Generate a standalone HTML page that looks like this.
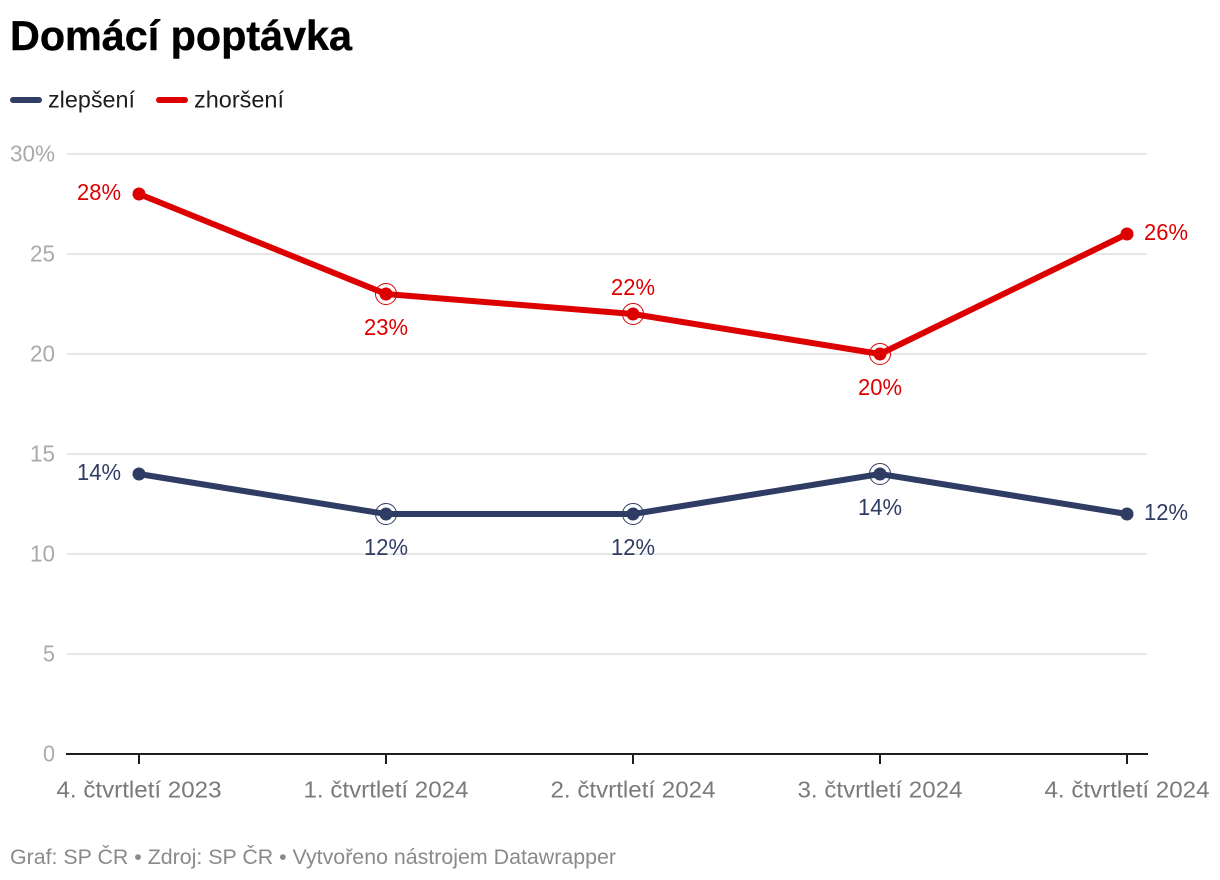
<!DOCTYPE html>
<html lang="cs">
<head>
<meta charset="utf-8">
<title>Domácí poptávka</title>
<style>
html,body{margin:0;padding:0;background:#fff;width:1220px;height:880px;overflow:hidden}
svg{display:block;font-family:"Liberation Sans",Arial,sans-serif}
</style>
</head>
<body>
<svg id="chart" width="1220" height="880" viewBox="0 0 1220 880" xmlns="http://www.w3.org/2000/svg">
  <rect width="1220" height="880" fill="#fff"/>
  <text x="10" y="50" font-size="42" font-weight="700" fill="#000" stroke="#000" stroke-width="0.4" textLength="342" lengthAdjust="spacingAndGlyphs">Domácí poptávka</text>
  <g>
    <line x1="13" y1="100" x2="39" y2="100" stroke="#2f3c63" stroke-width="6" stroke-linecap="round"/>
    <text x="48" y="107.5" font-size="23.5" fill="#1d1d1d" textLength="87" lengthAdjust="spacingAndGlyphs">zlepšení</text>
    <line x1="159" y1="100" x2="185" y2="100" stroke="#dd0000" stroke-width="6" stroke-linecap="round"/>
    <text x="194" y="107.5" font-size="23.5" fill="#1d1d1d" textLength="90" lengthAdjust="spacingAndGlyphs">zhoršení</text>
  </g>
  <g id="plot"></g>
  <text x="10" y="864" font-size="21" fill="#8a8a8a" textLength="606" lengthAdjust="spacingAndGlyphs">Graf: SP ČR • Zdroj: SP ČR • Vytvořeno nástrojem Datawrapper</text>
</svg>
<script>
const categories = ['4. čtvrtletí 2023', '1. čtvrtletí 2024', '2. čtvrtletí 2024', '3. čtvrtletí 2024', '4. čtvrtletí 2024'];
const improvementValues = [14, 12, 12, 14, 12];
const worseningValues = [28, 23, 22, 20, 26];
const yTicks = [0, 5, 10, 15, 20, 25, 30];
const yTickLabels = ['0', '5', '10', '15', '20', '25', '30%'];
const improvementLabelSides = ['left', 'below', 'below', 'below', 'right'];
const worseningLabelSides = ['left', 'below', 'above', 'below', 'right'];

const NS = 'http://www.w3.org/2000/svg';
const plot = document.getElementById('plot');
const X0 = 139, XSTEP = 247, Y0 = 754, YUNIT = 20;
function xScale(i) { return X0 + i * XSTEP; }
function yScale(v) { return Y0 - v * YUNIT; }
function make(tag, attrs, text) {
  const el = document.createElementNS(NS, tag);
  for (const k in attrs) el.setAttribute(k, attrs[k]);
  if (text !== undefined) el.textContent = text;
  plot.appendChild(el);
  return el;
}

yTicks.forEach(function (t, i) {
  if (t !== 0) {
    const grid = make('line', { x1: 67, x2: 1147, y1: yScale(t), y2: yScale(t), stroke: '#e6e6e6', 'stroke-width': 2 });
    
    
  }
  const s = yTickLabels[i];
  const w = s.length === 3 ? 45 : (s.length === 2 ? 25 : 12);
  const label = make('text', { x: 55, y: yScale(t) + 7.5, 'text-anchor': 'end', 'font-size': 23.5, fill: '#aaaaaa', textLength: w, lengthAdjust: 'spacingAndGlyphs' }, s);
  
  
});

const axis = make('line', { x1: 66, x2: 1148, y1: Y0, y2: Y0, stroke: '#1d1d1d', 'stroke-width': 2 });



categories.forEach(function (c, i) {
  const tick = make('line', { x1: xScale(i), x2: xScale(i), y1: Y0, y2: Y0 + 10, stroke: '#1d1d1d', 'stroke-width': 2 });
  
  
  const label = make('text', { x: xScale(i), y: 797.5, 'text-anchor': 'middle', 'font-size': 23.5, fill: '#7a7a7a', textLength: 165, lengthAdjust: 'spacingAndGlyphs' }, c);
  
  
});

function drawSeries(values, sides, color, key) {
  const pts = values.map(function (v, i) { return xScale(i) + ',' + yScale(v); }).join(' ');
  const line = make('polyline', { points: pts, fill: 'none', stroke: color, 'stroke-width': 6, 'stroke-linejoin': 'round' });
  
  
  values.forEach(function (v, i) {
    const cx = xScale(i), cy = yScale(v), side = sides[i];
    if (side === 'above' || side === 'below') {
      const ring = make('circle', { cx: cx, cy: cy, r: 10.5, fill: 'none', stroke: color, 'stroke-width': 1 });
      
      
    }
    const dot = make('circle', { cx: cx, cy: cy, r: 6.5, fill: color });
    
    
    let tx = cx, ty = cy + 6, anchor = 'middle';
    if (side === 'left') { tx = cx - 18; anchor = 'end'; }
    if (side === 'right') { tx = cx + 17; anchor = 'start'; }
    if (side === 'above') { ty = cy - 19; }
    if (side === 'below') { ty = cy + 41; }
    const label = make('text', { x: tx, y: ty, 'text-anchor': anchor, 'font-size': 23.5, fill: color, textLength: 44, lengthAdjust: 'spacingAndGlyphs' }, v + '%');
    
    
  });
}
drawSeries(improvementValues, improvementLabelSides, '#2f3c63', 'zlepseni');
drawSeries(worseningValues, worseningLabelSides, '#dd0000', 'zhorseni');
</script>
</body>
</html>
